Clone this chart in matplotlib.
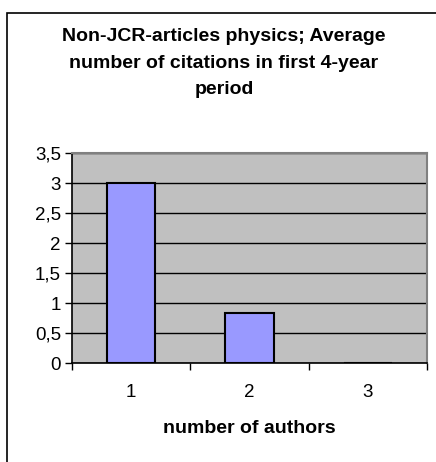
import matplotlib
matplotlib.use("Agg")
import matplotlib.pyplot as plt
from matplotlib.patches import Rectangle
from matplotlib.ticker import FuncFormatter, MultipleLocator

authors = ["1", "2", "3"]
avg_citations = [3.0, 0.83, 0.0]

plt.rcParams["font.family"] = ["Liberation Sans", "DejaVu Sans"]

fig = plt.figure(figsize=(4.36, 4.62), dpi=100)
fig.patch.set_facecolor("white")

# outer chart frame
fig.patches.append(Rectangle((7 / 436, -0.01), 1.0, (462 - 13) / 462 + 0.01,
                             transform=fig.transFigure, fill=False,
                             edgecolor="black", linewidth=1.2))

ax = fig.add_axes([72 / 436, (462 - 363) / 462, (427 - 72) / 436, (363 - 153) / 462])
ax.set_facecolor("#C0C0C0")

x = list(range(len(authors)))
ax.bar(x, avg_citations, width=0.41, color="#9999FF", edgecolor="black",
       linewidth=1.5, zorder=3)

ax.set_xlim(-0.5, len(authors) - 0.5)
ax.set_ylim(0, 3.5)
ax.yaxis.set_major_locator(MultipleLocator(0.5))
ax.yaxis.set_major_formatter(FuncFormatter(lambda v, p: f"{v:g}".replace(".", ",")))
ax.grid(axis="y", color="black", linewidth=1.0, zorder=1)

ax.set_xticks(x)
ax.set_xticklabels(authors)
ax.set_xticks([i + 0.5 for i in range(-1, len(authors))], minor=True)
ax.tick_params(axis="x", which="major", length=0, pad=15, labelsize=13.5)
ax.tick_params(axis="x", which="minor", length=5, direction="out", width=1)
ax.tick_params(axis="y", length=5, direction="out", width=1, labelsize=13.5, pad=3)

for side in ("top", "right"):
    ax.spines[side].set_color("#808080")
    ax.spines[side].set_linewidth(1.5)
for side in ("left", "bottom"):
    ax.spines[side].set_color("black")
    ax.spines[side].set_linewidth(1.2)

ax.set_xlabel("number of authors", fontsize=14, fontweight="bold", labelpad=14)

fig.text(224 / 436, 1 - 28 / 462,
         "Non-JCR-articles physics; Average\nnumber of citations in first 4-year\nperiod",
         ha="center", va="top", fontsize=14, fontweight="bold", linespacing=1.75)

fig.savefig("out.png", dpi=100)
